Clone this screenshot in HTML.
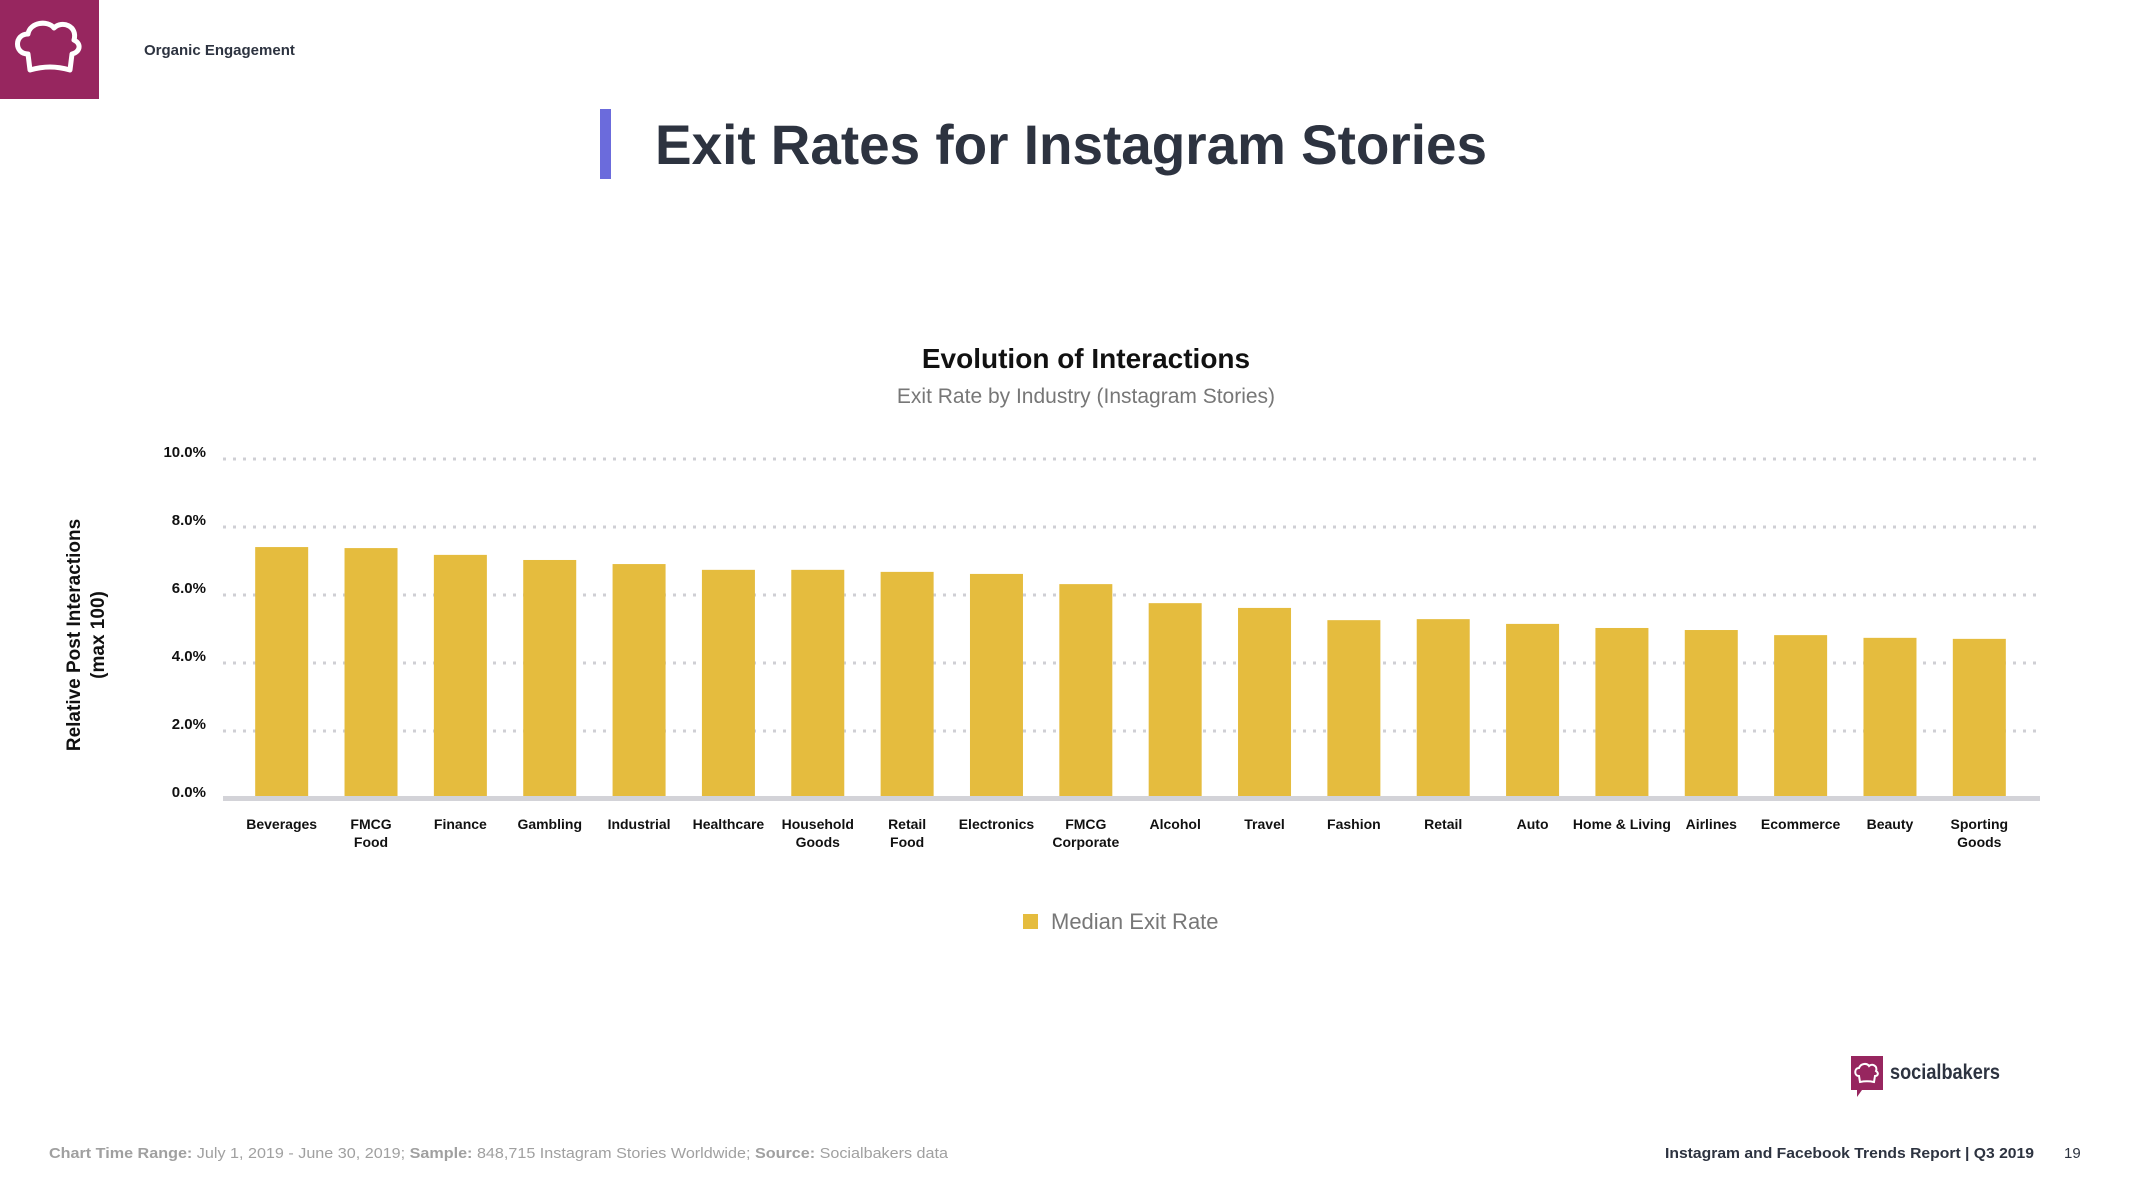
<!DOCTYPE html>
<html><head><meta charset="utf-8">
<style>
html,body{margin:0;padding:0;background:#fff;}
svg{display:block;font-family:"Liberation Sans",sans-serif;}
</style></head>
<body>
<svg id="page" width="2133" height="1200" viewBox="0 0 2133 1200">
  <g>
    <rect x="0" y="0" width="99" height="99" fill="#97265F"/>
    <path d="M30 70 L28 54 C14 54 14 34 28 34 C30 22 48 20 54 28 C62 20 78 26 74 40 C82 44 80 52 72 54 L70 70 C56 66 44 66 30 70 Z" fill="none" stroke="#fff" stroke-width="5" stroke-linejoin="round"/>
  </g>
  <text x="144" y="55" font-size="15" font-weight="bold" fill="#2d3340">Organic Engagement</text>

  <rect x="600" y="109" width="11" height="70" fill="#6b6bdc"/>
  <text x="655" y="164" font-size="56" font-weight="bold" fill="#2d3340" textLength="832" lengthAdjust="spacingAndGlyphs">Exit Rates for Instagram Stories</text>

  <text x="1086" y="368" font-size="28" font-weight="bold" fill="#111" text-anchor="middle">Evolution of Interactions</text>
  <text x="1086" y="403" font-size="21" fill="#777" text-anchor="middle">Exit Rate by Industry (Instagram Stories)</text>

  <g transform="translate(0,635) rotate(-90)">
    <text x="0" y="80" font-size="19" font-weight="bold" fill="#111" text-anchor="middle">Relative Post Interactions</text>
    <text x="0" y="104" font-size="19" font-weight="bold" fill="#111" text-anchor="middle">(max 100)</text>
  </g>

  <g id="grid"></g>
  <g id="yticks"></g>
  <g id="bars"></g>
  <rect x="223" y="796" width="1817" height="5" fill="#d3d3d8"/>
  <g id="xlabels"></g>

  <g>
    <rect x="1023" y="914" width="15" height="15" fill="#E5BC3E"/>
    <text x="1051" y="929" font-size="22" fill="#777">Median Exit Rate</text>
  </g>

  <g>
    <path d="M1851 1056 H1883 V1090 H1862 L1857 1097 V1090 H1851 Z" fill="#97265F"/>
    <path d="M1860 1082 L1859 1076 C1854 1076 1854 1068 1859 1068 C1861 1063 1867 1063 1869 1066 C1872 1063 1878 1066 1876 1071 C1879 1073 1878 1076 1875 1076 L1874 1082 C1869 1081 1865 1081 1860 1082 Z" fill="none" stroke="#fff" stroke-width="2"/>
    <text x="1890" y="1079" font-size="21" font-weight="bold" fill="#2d3340" textLength="110" lengthAdjust="spacingAndGlyphs">socialbakers</text>
  </g>

  <text x="49" y="1158" font-size="15" fill="#a0a0a0" textLength="899" lengthAdjust="spacingAndGlyphs"><tspan font-weight="bold">Chart Time Range:</tspan> July 1, 2019 - June 30, 2019; <tspan font-weight="bold">Sample:</tspan> 848,715 Instagram Stories Worldwide; <tspan font-weight="bold">Source:</tspan> Socialbakers data</text>
  <text x="1665" y="1158" font-size="15" font-weight="bold" fill="#2d3340" textLength="369" lengthAdjust="spacingAndGlyphs">Instagram and Facebook Trends Report | Q3 2019</text>
  <text x="2064" y="1158" font-size="15" fill="#2d3340">19</text>
</svg>
<script>
const categories = ["Beverages","FMCG\nFood","Finance","Gambling","Industrial","Healthcare","Household\nGoods","Retail\nFood","Electronics","FMCG\nCorporate","Alcohol","Travel","Fashion","Retail","Auto","Home & Living","Airlines","Ecommerce","Beauty","Sporting\nGoods"];
const exitRates = [7.41,7.38,7.18,7.03,6.91,6.74,6.74,6.68,6.62,6.32,5.76,5.62,5.26,5.29,5.15,5.03,4.97,4.82,4.74,4.71];
const yTicks = [0,2,4,6,8,10];
const yTickLabels = ["0.0%","2.0%","4.0%","6.0%","8.0%","10.0%"];

const NS = "http://www.w3.org/2000/svg";
const plotL = 223, plotR = 2040, y0 = 799, yTop = 459, yMax = 10;
const barsL = 237, barsR = 2024;
const yScale = v => y0 - (v / yMax) * (y0 - yTop);
const step = (barsR - barsL) / categories.length;
const xCenter = i => barsL + step * (i + 0.5);
const barW = 53;

const grid = document.getElementById('grid');
const yt = document.getElementById('yticks');
yTicks.forEach((t, i) => {
  const y = yScale(t);
  if (t > 0) {
    const l = document.createElementNS(NS, 'line');
    l.setAttribute('x1', plotL); l.setAttribute('x2', plotR);
    l.setAttribute('y1', y); l.setAttribute('y2', y);
    l.setAttribute('stroke', '#cfcfd4'); l.setAttribute('stroke-width', '3');
    l.setAttribute('stroke-dasharray', '3 7');
    
    
    grid.appendChild(l);
  }
  const tx = document.createElementNS(NS, 'text');
  tx.setAttribute('x', 206); tx.setAttribute('y', y - 2);
  tx.setAttribute('text-anchor', 'end');
  tx.setAttribute('font-size', '15'); tx.setAttribute('font-weight', 'bold');
  tx.setAttribute('fill', '#111');
  tx.textContent = yTickLabels[i];
  
  
  yt.appendChild(tx);
});

const bars = document.getElementById('bars');
const xl = document.getElementById('xlabels');
categories.forEach((c, i) => {
  const cx = xCenter(i);
  const top = yScale(exitRates[i]);
  const r = document.createElementNS(NS, 'rect');
  r.setAttribute('x', cx - barW / 2); r.setAttribute('y', top);
  r.setAttribute('width', barW); r.setAttribute('height', y0 - top);
  r.setAttribute('fill', '#E5BC3E');
  
  
  bars.appendChild(r);
  const lines = c.split('\n');
  lines.forEach((ln, k) => {
    const t = document.createElementNS(NS, 'text');
    t.setAttribute('x', cx); t.setAttribute('y', 829 + k * 18);
    t.setAttribute('text-anchor', 'middle');
    t.setAttribute('font-size', '14'); t.setAttribute('font-weight', 'bold');
    t.setAttribute('fill', '#111');
    t.textContent = ln;
    
    
    xl.appendChild(t);
  });
});
</script>
</body></html>
